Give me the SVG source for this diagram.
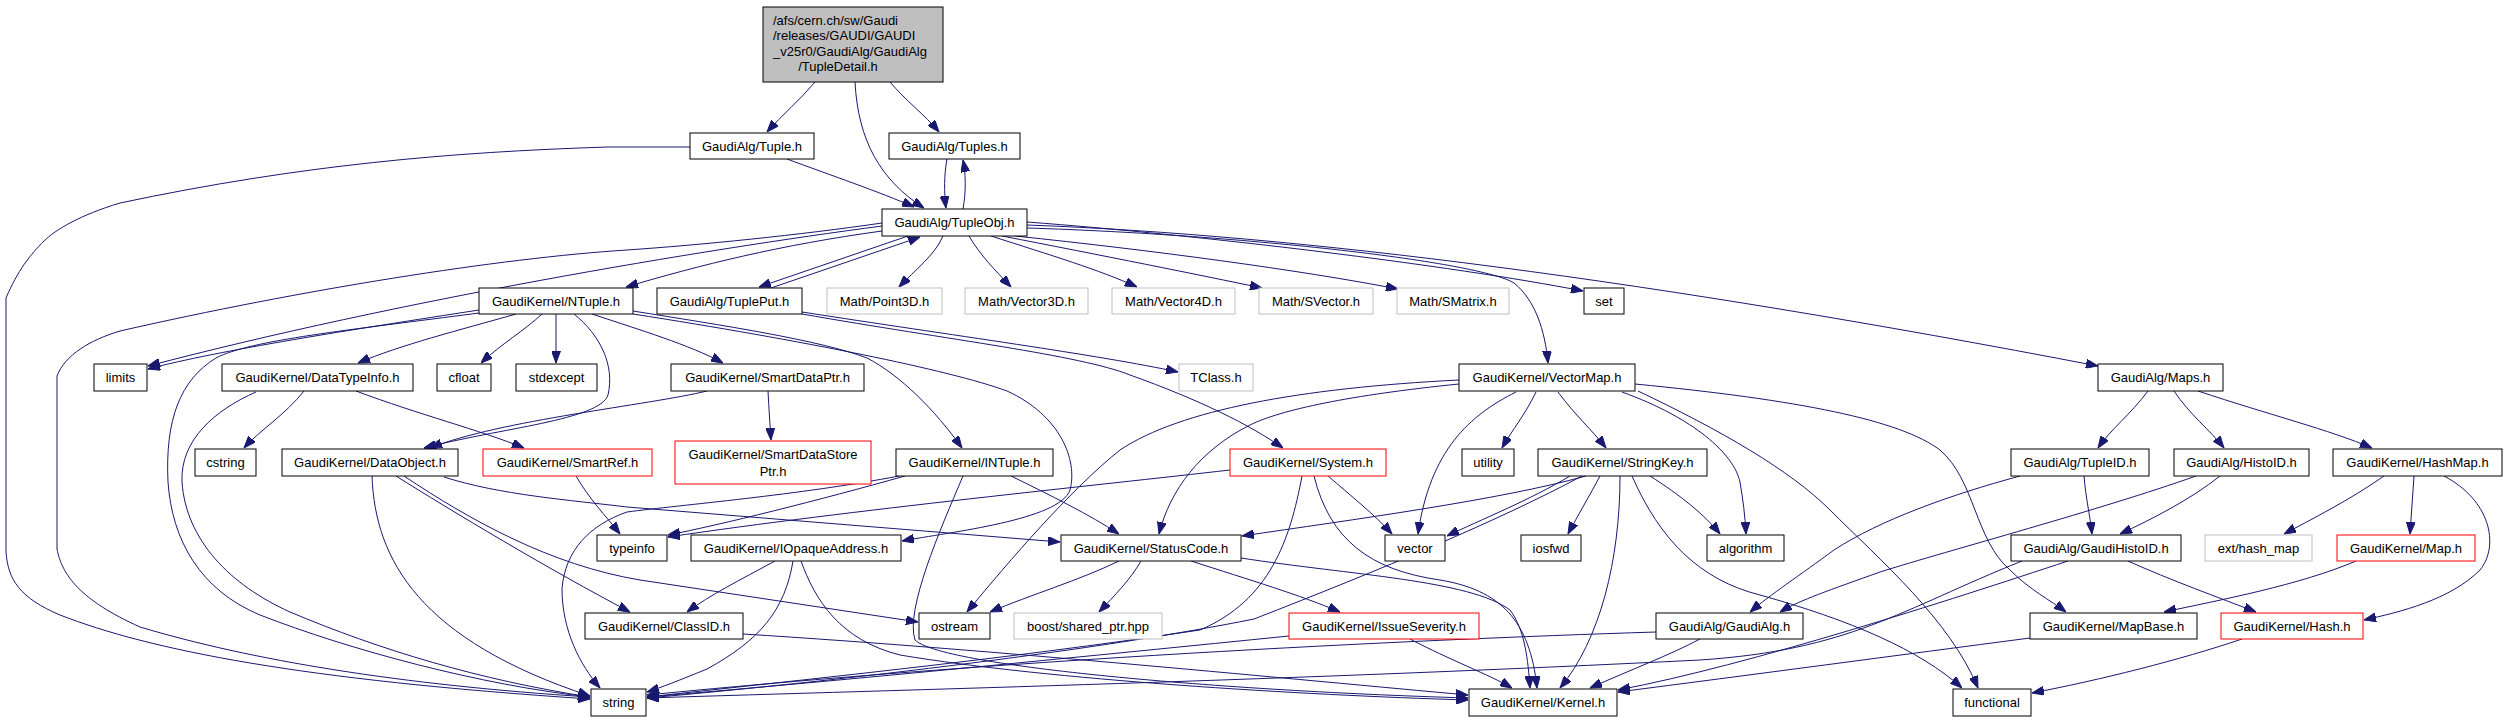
<svg xmlns="http://www.w3.org/2000/svg" width="2507" height="723" viewBox="0 0 2507 723">
<style>
.n rect{fill:#fff;stroke:#000;stroke-width:1}
.n.g rect{stroke:#bfbfbf}
.n.r rect{stroke:#f00}
.n.root rect{fill:#bfbfbf}
text{font-family:"Liberation Sans",Arial,sans-serif;font-size:13px;text-anchor:middle;fill:#000}
text.l{text-anchor:start}
#edges path{fill:none;stroke:#191970;stroke-width:1;marker-end:url(#a)}
</style>
<defs>
<marker id="a" markerWidth="12" markerHeight="9" refX="12" refY="4.5" orient="auto" markerUnits="userSpaceOnUse">
<path d="M0,0 L12,4.5 L0,9 z" fill="#191970" stroke="#191970" stroke-width="1"/>
</marker>
</defs>
<rect width="2507" height="723" fill="#fff"/>
<g id="edges">
<path d="M815,82 C800,100 782,115 767,132"/>
<path d="M855,82 C858,140 880,180 924,208"/>
<path d="M890,82 C905,100 925,115 939,132"/>
<path d="M787,159 C830,175 880,192 914,207"/>
<path d="M690,147 L608,147 C450,152 300,165 120,203 C80,215 55,230 44,241 C30,255 18,270 6,298 L6,552 C8,580 20,598 60,615 C150,650 300,680 590,699"/>
<path d="M947,159 C944,175 944,192 946,208"/>
<path d="M963,209 C966,192 966,175 963,160"/>
<path d="M882,231 C780,245 700,265 626,287"/>
<path d="M882,226 C700,250 400,300 148,366"/>
<path d="M882,223 C800,235 700,245 627,250 C500,258 300,290 120,331 C90,340 65,355 57,376 L57,549 C62,575 80,600 140,627 C250,660 400,685 590,697"/>
<path d="M908,236 L759,287"/>
<path d="M771,288 L920,237"/>
<path d="M943,236 C935,255 915,270 899,287"/>
<path d="M969,236 C980,255 995,270 1011,287"/>
<path d="M991,236 C1050,255 1100,270 1137,287"/>
<path d="M1002,236 C1100,255 1200,275 1262,288"/>
<path d="M1015,236 C1150,250 1300,270 1398,289"/>
<path d="M1027,222 C1200,235 1450,265 1583,291"/>
<path d="M1027,228 C1250,235 1480,262 1514,283 C1535,300 1545,330 1548,363"/>
<path d="M1027,225 C1300,235 1650,280 2098,366"/>
<path d="M479,310 C350,330 220,350 148,369"/>
<path d="M516,314 C460,330 400,345 358,363"/>
<path d="M542,314 C525,330 500,345 481,363"/>
<path d="M556,314 L556,363"/>
<path d="M574,314 C600,335 615,365 608,395 C600,420 500,428 424,448"/>
<path d="M592,314 C640,330 690,345 723,363"/>
<path d="M633,311 C720,325 820,340 867,358 C900,375 935,410 962,448"/>
<path d="M633,314 C800,340 950,370 1007,391 C1060,415 1078,460 1070,490 C1060,520 950,532 902,541"/>
<path d="M479,313 C350,330 250,340 216,358 C180,380 165,420 168,482 C172,540 200,590 260,615 C350,650 480,685 590,697"/>
<path d="M304,391 C285,415 260,430 244,448"/>
<path d="M356,391 C420,415 480,430 524,448"/>
<path d="M256,392 C215,410 180,440 182,482 C186,540 230,585 290,612 C380,650 480,680 590,697"/>
<path d="M707,391 C650,405 500,420 430,448"/>
<path d="M768,391 C769,410 770,425 771,440"/>
<path d="M576,476 C590,500 605,515 620,534"/>
<path d="M396,476 C450,510 550,570 630,612"/>
<path d="M444,477 C500,495 570,500 627,507 L1060,542"/>
<path d="M404,476 C470,520 550,565 640,580 L918,622"/>
<path d="M372,476 C375,560 420,640 590,696"/>
<path d="M905,476 C820,500 720,525 668,535"/>
<path d="M899,476 C800,495 680,505 627,512 C590,525 565,550 562,589 C562,630 580,665 600,688"/>
<path d="M1011,476 C1050,495 1090,515 1119,534"/>
<path d="M963,476 C940,530 905,610 915,640 C940,665 1200,690 1468,698"/>
<path d="M802,312 C950,335 1100,355 1178,372"/>
<path d="M802,314 C950,340 1080,355 1130,375 C1200,400 1250,425 1283,448"/>
<path d="M1230,470 C1100,485 850,510 668,537"/>
<path d="M1328,476 C1350,495 1375,515 1392,534"/>
<path d="M1302,476 C1290,540 1270,600 1200,630 C1000,660 800,680 647,697"/>
<path d="M1314,476 C1330,540 1370,570 1440,580 C1500,590 1530,620 1537,688"/>
<path d="M1459,384 C1350,395 1280,410 1250,425 C1200,450 1170,490 1159,534"/>
<path d="M1459,380 C1300,388 1180,410 1120,450 C1070,490 1010,560 967,612"/>
<path d="M1516,392 C1470,415 1430,450 1418,534"/>
<path d="M1536,392 C1525,415 1512,430 1502,448"/>
<path d="M1558,392 C1575,415 1592,430 1606,448"/>
<path d="M1622,392 C1694,418 1734,454 1740,482 C1743,500 1745,515 1746,534"/>
<path d="M1638,391 C1720,430 1790,470 1830,510 C1880,560 1950,620 1978,688"/>
<path d="M1635,384 C1800,400 1900,420 1940,450 C1975,480 1975,540 2010,570 C2030,590 2050,600 2066,612"/>
<path d="M1570,476 C1530,500 1480,520 1447,536"/>
<path d="M1600,476 C1590,495 1578,515 1568,534"/>
<path d="M1650,476 C1680,495 1705,515 1720,534"/>
<path d="M1620,476 C1620,560 1600,640 1560,688"/>
<path d="M1586,476 C1500,500 1350,520 1242,536"/>
<path d="M1582,476 C1500,520 1380,570 1254,619 C1100,650 850,680 647,698"/>
<path d="M1632,476 C1660,540 1700,580 1760,595 C1850,620 1920,650 1962,688"/>
<path d="M2148,391 C2130,415 2110,430 2098,448"/>
<path d="M2174,391 C2190,415 2210,430 2224,448"/>
<path d="M2198,391 C2270,415 2330,430 2372,448"/>
<path d="M2084,476 C2086,500 2090,515 2092,534"/>
<path d="M2020,476 C1950,495 1880,520 1834,550 C1800,575 1770,595 1750,612"/>
<path d="M2220,476 C2190,500 2150,520 2120,534"/>
<path d="M2196,476 C2100,510 1950,550 1880,572 C1830,590 1800,600 1780,612"/>
<path d="M2384,476 C2350,500 2310,520 2284,534"/>
<path d="M2414,476 L2410,534"/>
<path d="M2444,476 C2490,500 2500,545 2480,570 C2450,600 2400,612 2364,620"/>
<path d="M2128,561 C2170,580 2220,598 2256,612"/>
<path d="M2068,561 C1950,600 1750,665 1618,690"/>
<path d="M2022,561 C1900,610 1850,650 1700,660 C1300,680 900,690 647,698"/>
<path d="M1700,639 C1670,655 1630,670 1590,688"/>
<path d="M1656,632 C1400,640 1000,660 647,695"/>
<path d="M1410,639 C1450,660 1490,675 1512,688"/>
<path d="M1289,636 C1100,655 850,680 647,697"/>
<path d="M1119,561 C1080,580 1030,595 990,612"/>
<path d="M1141,561 C1130,580 1115,595 1099,612"/>
<path d="M1191,561 C1250,580 1300,595 1340,612"/>
<path d="M1241,558 C1350,575 1470,580 1510,610 C1525,630 1528,660 1530,688"/>
<path d="M775,561 C740,580 710,595 687,612"/>
<path d="M793,561 C785,610 760,640 707,669 C680,680 660,688 647,692"/>
<path d="M801,561 C815,600 840,640 900,655 C1050,680 1300,695 1468,700"/>
<path d="M743,634 C1000,650 1300,680 1468,695"/>
<path d="M2030,638 C1900,655 1750,675 1618,692"/>
<path d="M2356,561 C2300,585 2220,600 2164,612"/>
<path d="M2242,639 C2180,660 2100,680 2032,693"/>
</g>
<g id="root" class="n root"><rect x="763" y="7" width="180" height="75"/>
<text class="l" x="773" y="24.5">/afs/cern.ch/sw/Gaudi</text>
<text class="l" x="773" y="40">/releases/GAUDI/GAUDI</text>
<text class="l" x="773" y="55.5">_v25r0/GaudiAlg/GaudiAlg</text>
<text x="838" y="71">/TupleDetail.h</text></g>
<g id="tuple" class="n"><rect x="690" y="133" width="124" height="26"/><text x="752" y="150.5">GaudiAlg/Tuple.h</text></g>
<g id="tuples" class="n"><rect x="889" y="133" width="131" height="26"/><text x="954.5" y="150.5">GaudiAlg/Tuples.h</text></g>
<g id="tupleobj" class="n"><rect x="882" y="209" width="145" height="27"/><text x="954.5" y="227">GaudiAlg/TupleObj.h</text></g>
<g id="ntuple" class="n"><rect x="479" y="288" width="154" height="26"/><text x="556" y="305.5">GaudiKernel/NTuple.h</text></g>
<g id="tupleput" class="n"><rect x="657" y="288" width="145" height="26"/><text x="729.5" y="305.5">GaudiAlg/TuplePut.h</text></g>
<g id="point3d" class="n g"><rect x="827" y="288" width="115" height="26"/><text x="884.5" y="305.5">Math/Point3D.h</text></g>
<g id="vector3d" class="n g"><rect x="965" y="288" width="123" height="26"/><text x="1026.5" y="305.5">Math/Vector3D.h</text></g>
<g id="vector4d" class="n g"><rect x="1112" y="288" width="123" height="26"/><text x="1173.5" y="305.5">Math/Vector4D.h</text></g>
<g id="svector" class="n g"><rect x="1259" y="288" width="114" height="26"/><text x="1316" y="305.5">Math/SVector.h</text></g>
<g id="smatrix" class="n g"><rect x="1397" y="288" width="112" height="26"/><text x="1453" y="305.5">Math/SMatrix.h</text></g>
<g id="set" class="n"><rect x="1584" y="288" width="40" height="26"/><text x="1604" y="305.5">set</text></g>
<g id="limits" class="n"><rect x="94" y="364" width="53" height="27"/><text x="120.5" y="382">limits</text></g>
<g id="datatypeinfo" class="n"><rect x="222" y="364" width="191" height="27"/><text x="317.5" y="382">GaudiKernel/DataTypeInfo.h</text></g>
<g id="cfloat" class="n"><rect x="437" y="364" width="54" height="27"/><text x="464" y="382">cfloat</text></g>
<g id="stdexcept" class="n"><rect x="516" y="364" width="81" height="27"/><text x="556.5" y="382">stdexcept</text></g>
<g id="smartdataptr" class="n"><rect x="671" y="364" width="193" height="27"/><text x="767.5" y="382">GaudiKernel/SmartDataPtr.h</text></g>
<g id="tclass" class="n g"><rect x="1179" y="364" width="74" height="27"/><text x="1216" y="382">TClass.h</text></g>
<g id="vectormap" class="n"><rect x="1459" y="364" width="176" height="27"/><text x="1547" y="382">GaudiKernel/VectorMap.h</text></g>
<g id="maps" class="n"><rect x="2098" y="364" width="125" height="27"/><text x="2160.5" y="382">GaudiAlg/Maps.h</text></g>
<g id="cstring" class="n"><rect x="195" y="449" width="61" height="27"/><text x="225.5" y="467">cstring</text></g>
<g id="dataobject" class="n"><rect x="282" y="449" width="176" height="27"/><text x="370" y="467">GaudiKernel/DataObject.h</text></g>
<g id="smartref" class="n r"><rect x="483" y="449" width="169" height="27"/><text x="567.5" y="467">GaudiKernel/SmartRef.h</text></g>
<g id="smartdatastoreptr" class="n r"><rect x="675" y="441" width="196" height="43"/><text x="773" y="459">GaudiKernel/SmartDataStore</text><text x="773" y="476">Ptr.h</text></g>
<g id="intuple" class="n"><rect x="896" y="449" width="157" height="27"/><text x="974.5" y="467">GaudiKernel/INTuple.h</text></g>
<g id="system" class="n r"><rect x="1230" y="449" width="156" height="27"/><text x="1308" y="467">GaudiKernel/System.h</text></g>
<g id="utility" class="n"><rect x="1462" y="449" width="52" height="27"/><text x="1488" y="467">utility</text></g>
<g id="stringkey" class="n"><rect x="1538" y="449" width="169" height="27"/><text x="1622.5" y="467">GaudiKernel/StringKey.h</text></g>
<g id="tupleid" class="n"><rect x="2011" y="449" width="138" height="27"/><text x="2080" y="467">GaudiAlg/TupleID.h</text></g>
<g id="histoid" class="n"><rect x="2174" y="449" width="135" height="27"/><text x="2241.5" y="467">GaudiAlg/HistoID.h</text></g>
<g id="hashmap" class="n"><rect x="2333" y="449" width="169" height="27"/><text x="2417.5" y="467">GaudiKernel/HashMap.h</text></g>
<g id="typeinfo" class="n"><rect x="597" y="535" width="70" height="26"/><text x="632" y="552.5">typeinfo</text></g>
<g id="iopaqueaddress" class="n"><rect x="691" y="535" width="210" height="26"/><text x="796" y="552.5">GaudiKernel/IOpaqueAddress.h</text></g>
<g id="statuscode" class="n"><rect x="1061" y="535" width="180" height="26"/><text x="1151" y="552.5">GaudiKernel/StatusCode.h</text></g>
<g id="vector" class="n"><rect x="1385" y="535" width="60" height="26"/><text x="1415" y="552.5">vector</text></g>
<g id="iosfwd" class="n"><rect x="1521" y="535" width="60" height="26"/><text x="1551" y="552.5">iosfwd</text></g>
<g id="algorithm" class="n"><rect x="1707" y="535" width="77" height="26"/><text x="1745.5" y="552.5">algorithm</text></g>
<g id="gaudihistoid" class="n"><rect x="2011" y="535" width="170" height="26"/><text x="2096" y="552.5">GaudiAlg/GaudiHistoID.h</text></g>
<g id="exthashmap" class="n g"><rect x="2205" y="535" width="107" height="26"/><text x="2258.5" y="552.5">ext/hash_map</text></g>
<g id="map" class="n r"><rect x="2337" y="535" width="138" height="26"/><text x="2406" y="552.5">GaudiKernel/Map.h</text></g>
<g id="classid" class="n"><rect x="585" y="613" width="158" height="26"/><text x="664" y="630.5">GaudiKernel/ClassID.h</text></g>
<g id="ostream" class="n"><rect x="919" y="613" width="71" height="26"/><text x="954.5" y="630.5">ostream</text></g>
<g id="sharedptr" class="n g"><rect x="1014" y="613" width="148" height="26"/><text x="1088" y="630.5">boost/shared_ptr.hpp</text></g>
<g id="issueseverity" class="n r"><rect x="1289" y="613" width="190" height="26"/><text x="1384" y="630.5">GaudiKernel/IssueSeverity.h</text></g>
<g id="gaudialg" class="n"><rect x="1656" y="613" width="147" height="26"/><text x="1729.5" y="630.5">GaudiAlg/GaudiAlg.h</text></g>
<g id="mapbase" class="n"><rect x="2030" y="613" width="167" height="26"/><text x="2113.5" y="630.5">GaudiKernel/MapBase.h</text></g>
<g id="hash" class="n r"><rect x="2221" y="613" width="142" height="26"/><text x="2292" y="630.5">GaudiKernel/Hash.h</text></g>
<g id="string" class="n"><rect x="591" y="689" width="55" height="27"/><text x="618.5" y="707">string</text></g>
<g id="kernel" class="n"><rect x="1469" y="689" width="148" height="27"/><text x="1543" y="707">GaudiKernel/Kernel.h</text></g>
<g id="functional" class="n"><rect x="1953" y="689" width="78" height="27"/><text x="1992" y="707">functional</text></g>
</svg>
